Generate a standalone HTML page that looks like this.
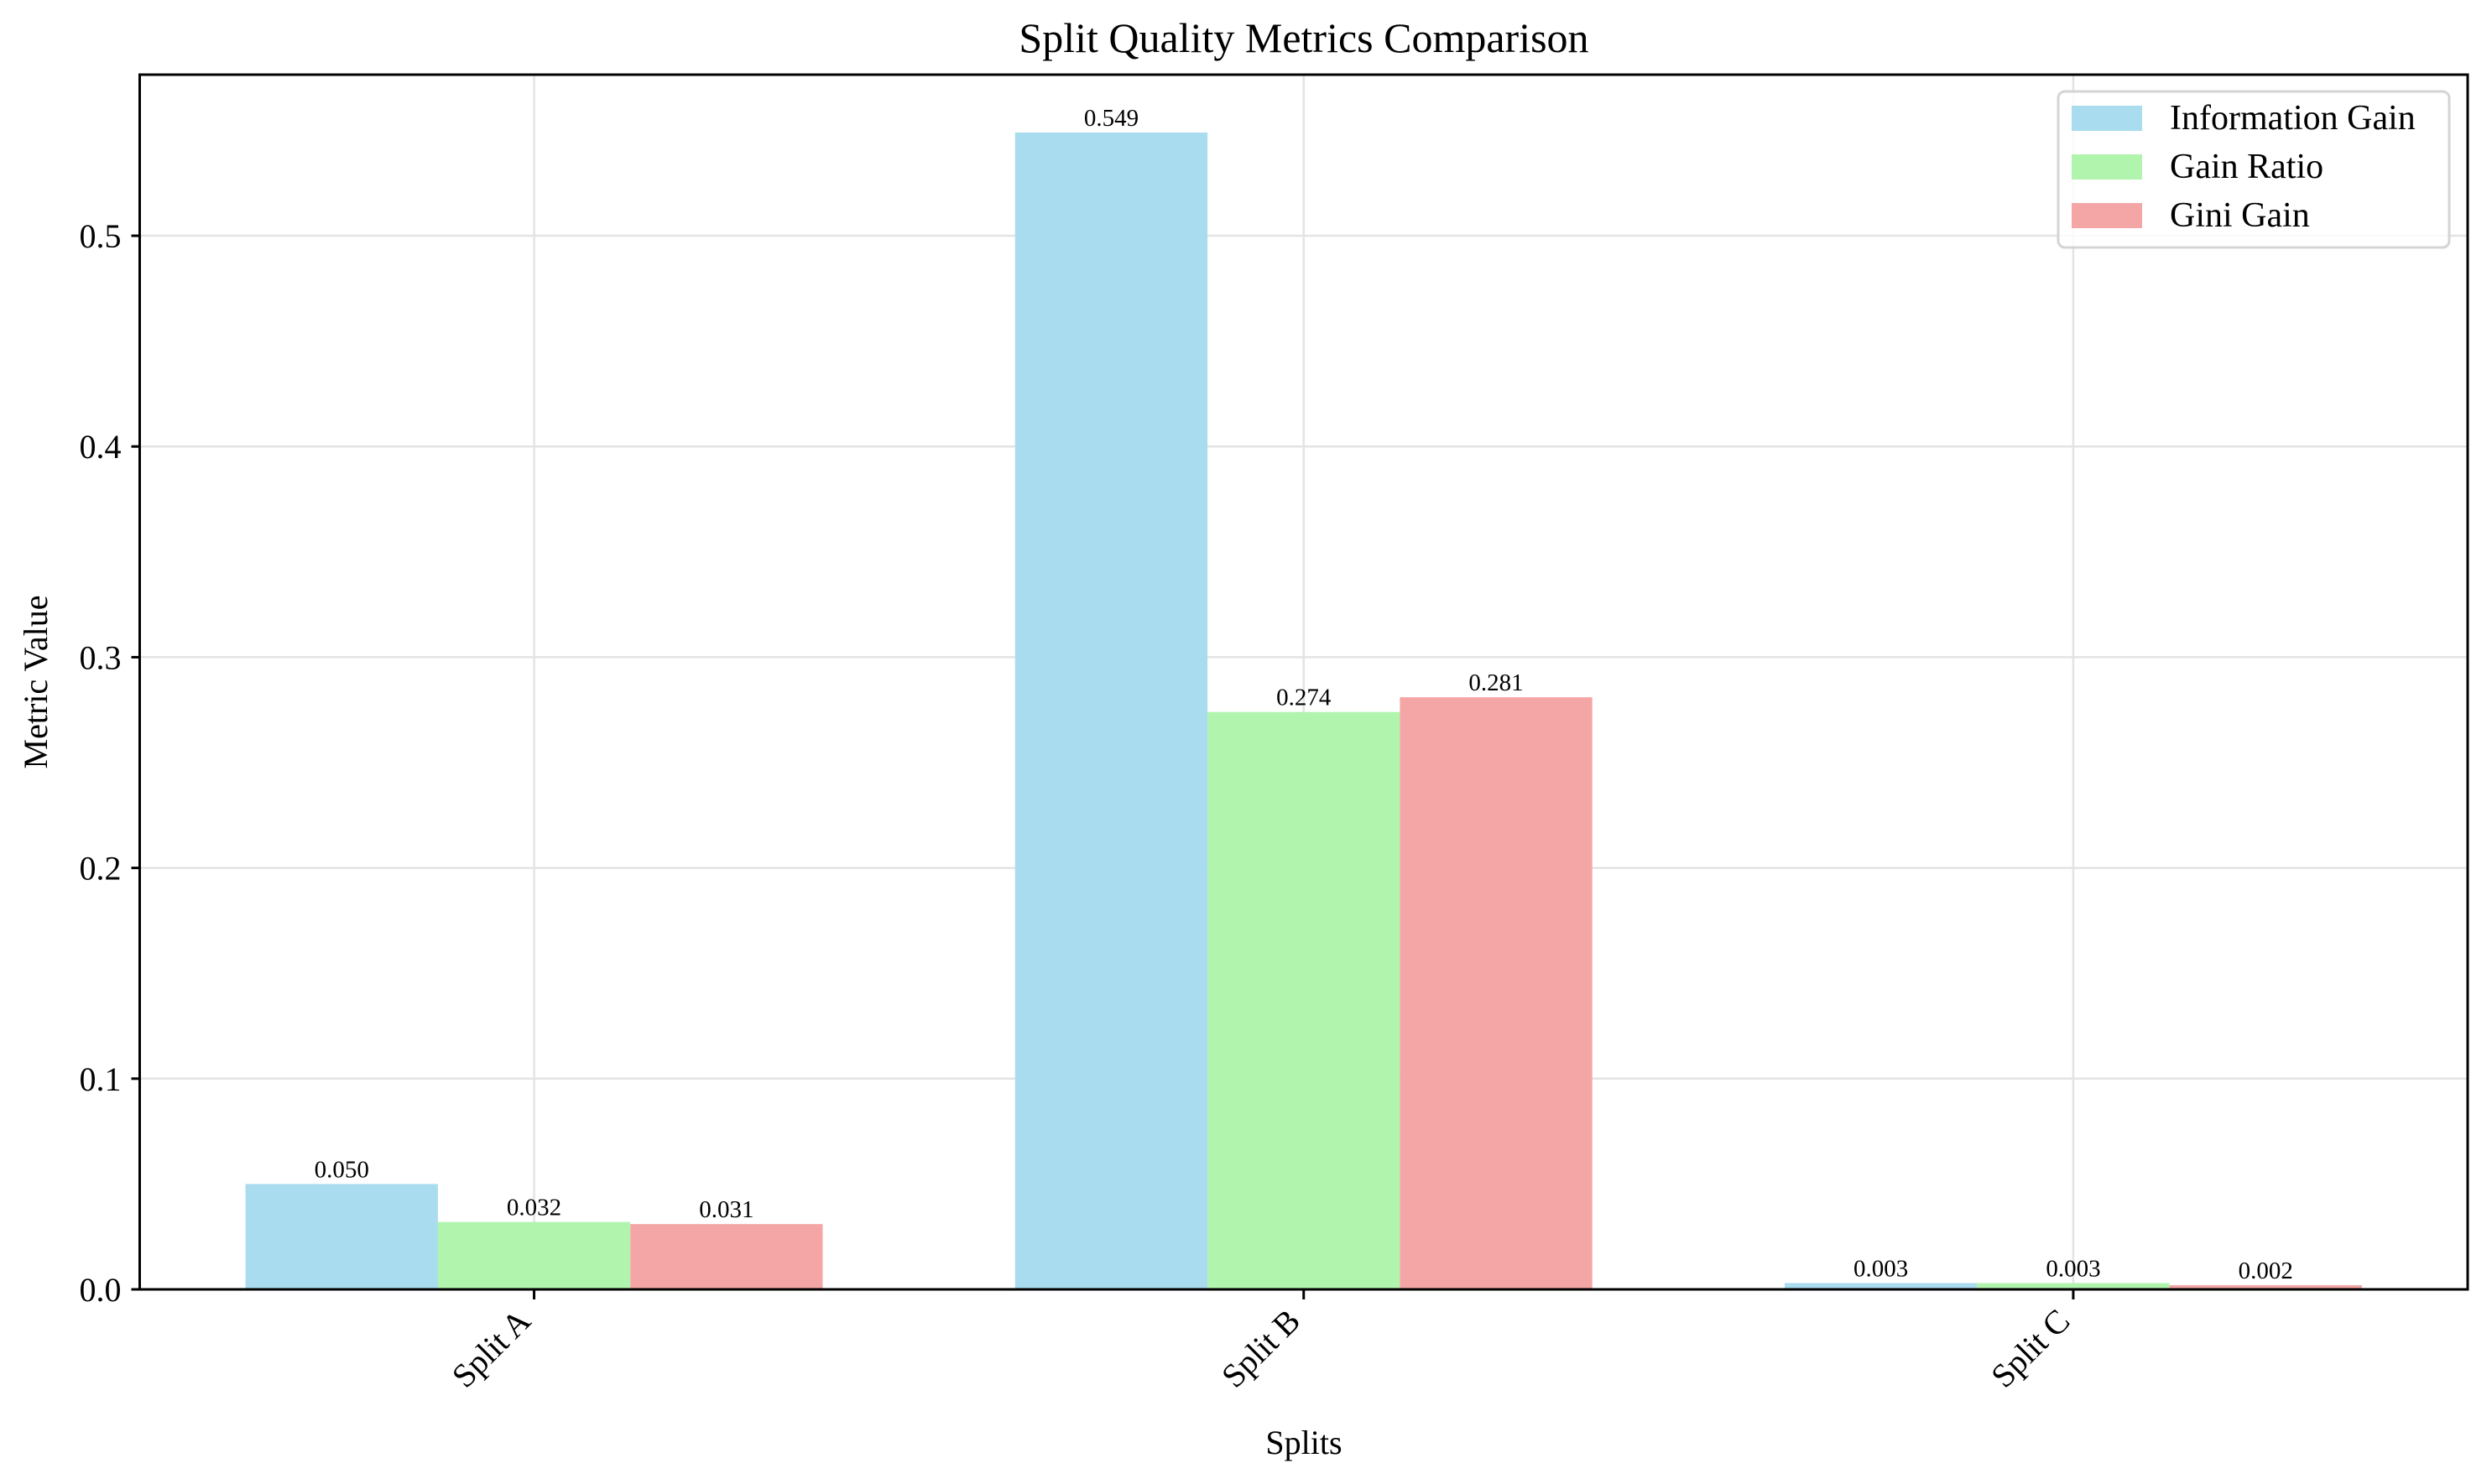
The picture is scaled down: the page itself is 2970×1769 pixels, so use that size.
<!DOCTYPE html>
<html><head><meta charset="utf-8">
<style>
html,body{margin:0;padding:0;background:#fff;}
svg{display:block;font-family:"Liberation Serif","DejaVu Serif",serif;}
</style></head>
<body>
<svg id="chart" width="2970" height="1769" viewBox="0 0 2970 1769" xmlns="http://www.w3.org/2000/svg">
<rect width="2970" height="1769" fill="#fff"/>
<text x="1554" y="62" font-size="50" text-anchor="middle">Split Quality Metrics Comparison</text>
<g id="grid"></g>
<g id="bars"></g>
<g id="axes"></g>
<text x="1554" y="1733" font-size="40" text-anchor="middle">Splits</text>
<text x="0" y="0" font-size="40" text-anchor="middle" transform="translate(56,813) rotate(-90)">Metric Value</text>
<g>
<rect x="2453" y="109" width="466" height="186" rx="8" fill="#fff" fill-opacity="0.8" stroke="#d4d4d4" stroke-width="3"/>
<g>
<rect x="2469" y="126" width="84" height="30" fill="#a9dcee"/>
<text x="2586" y="154" font-size="42">Information Gain</text></g>
<g>
<rect x="2469" y="184" width="84" height="30" fill="#b0f4ae"/>
<text x="2586" y="212" font-size="42">Gain Ratio</text></g>
<g>
<rect x="2469" y="242" width="84" height="30" fill="#f4a6a6"/>
<text x="2586" y="270" font-size="42">Gini Gain</text></g>
</g>
</svg>
<script>
const categories = ["Split A", "Split B", "Split C"];
const infoGain = [0.050, 0.549, 0.003];
const gainRatio = [0.032, 0.274, 0.003];
const giniGain = [0.031, 0.281, 0.002];
const yTicks = [0.0, 0.1, 0.2, 0.3, 0.4, 0.5];
const yTickLabels = ["0.0", "0.1", "0.2", "0.3", "0.4", "0.5"];

const NS = "http://www.w3.org/2000/svg";
const L = 166.5, R = 2941, T = 89, B = 1537;
const xMin = -0.5125, xMax = 2.5125;
const allVals = infoGain.concat(gainRatio, giniGain);
const yMax = Math.max.apply(null, allVals) * 1.05;
function xs(v){ return L + (v - xMin) / (xMax - xMin) * (R - L); }
function ys(v){ return B - v / yMax * (B - T); }
function mk(tag, attrs, parent){
  const e = document.createElementNS(NS, tag);
  for (const k in attrs) e.setAttribute(k, attrs[k]);
  parent.appendChild(e);
  return e;
}
const grid = document.getElementById('grid');
const bars = document.getElementById('bars');
const axes = document.getElementById('axes');

yTicks.forEach((t, i) => {
  const y = ys(t);
  const g = mk('line', {x1:L, x2:R, y1:y, y2:y, stroke:'#e3e3e3', 'stroke-width':2.5}, grid);
  
  
  const tk = mk('line', {x1:L-10, x2:L, y1:y, y2:y, stroke:'#000', 'stroke-width':3}, axes);
  
  
  const lb = mk('text', {x:L-22, y:y+14, 'font-size':40, 'text-anchor':'end'}, axes);
  lb.textContent = yTickLabels[i];
  
  
});
categories.forEach((c, i) => {
  const x = xs(i);
  const g = mk('line', {x1:x, x2:x, y1:T, y2:B, stroke:'#e3e3e3', 'stroke-width':2.5}, grid);
  
  
  const tk = mk('line', {x1:x, x2:x, y1:B, y2:B+12, stroke:'#000', 'stroke-width':3}, axes);
  
  
  const lb = mk('text', {x:0, y:0, 'font-size':40, 'text-anchor':'end', transform:'translate(' + (x-2) + ',' + (B+40) + ') rotate(-45)'}, axes);
  lb.textContent = c;
  
  
});

const series = [
  {vals: infoGain, color:'#a9dcee', name:'information-gain'},
  {vals: gainRatio, color:'#b0f4ae', name:'gain-ratio'},
  {vals: giniGain, color:'#f4a6a6', name:'gini-gain'}
];
const w = 0.25;
series.forEach((s, si) => {
  s.vals.forEach((v, i) => {
    const cx = i + (si - 1) * w;
    const x0 = xs(cx - w/2), x1 = xs(cx + w/2);
    const r = mk('rect', {x:x0, y:ys(v), width:x1-x0, height:B-ys(v), fill:s.color}, bars);
    
    
    const t = mk('text', {x:xs(cx), y:ys(v)-8, 'font-size':29, 'text-anchor':'middle'}, bars);
    t.textContent = v.toFixed(3);
    
    
  });
});
const frame = mk('rect', {x:L, y:T, width:R-L, height:B-T, fill:'none', stroke:'#000', 'stroke-width':3}, axes);


</script>
</body></html>
